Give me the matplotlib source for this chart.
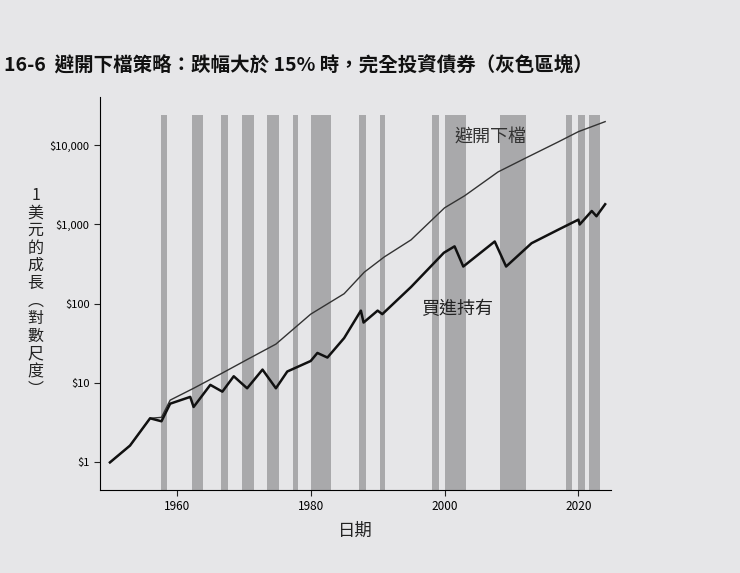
import matplotlib
matplotlib.use('Agg')
from matplotlib import pyplot as plt
from matplotlib.ticker import FixedLocator, NullLocator
import numpy as np

plt.rcParams['font.family'] = ['Noto Sans CJK TC', 'DejaVu Sans']

# gray blocks: periods fully in bonds
band_start = [1957.6, 1962.2, 1966.6, 1969.7, 1973.5, 1977.3, 1980.1, 1987.2, 1990.3,
              1998.2, 2000.0, 2008.3, 2018.1, 2019.9, 2021.6]
band_end = [1958.6, 1963.9, 1967.7, 1971.5, 1975.3, 1978.1, 1983.1, 1988.3, 1991.1,
            1999.1, 2003.2, 2012.2, 2019.1, 2021.0, 2023.2]

bh_year = [1950, 1953, 1956, 1957.7, 1959, 1962, 1962.5, 1965, 1966.8, 1968.5, 1970.5,
           1972.8, 1974.8, 1976.5, 1980, 1981, 1982.5, 1985, 1987.5, 1987.9, 1990, 1990.7,
           1995, 1999.9, 2001.5, 2002.8, 2007.5, 2009.2, 2013, 2017, 2020, 2020.2, 2022,
           2022.7, 2024]
bh_val = [1.0, 1.63, 3.6, 3.3, 5.5, 6.7, 5.0, 9.5, 7.8, 12.2, 8.6, 14.8, 8.6, 14, 19, 24,
          21, 37, 82, 58, 82, 74, 163, 440, 530, 295, 610, 295, 580, 860, 1150, 1000, 1480,
          1270, 1800]

ad_year = [1950, 1953, 1956, 1957.7, 1959, 1962.5, 1966.8, 1970.5, 1974.8, 1980, 1985,
           1988, 1991, 1995, 2000, 2003, 2008, 2012, 2017, 2020, 2024]
ad_val = [1.0, 1.63, 3.6, 3.7, 6.1, 8.6, 13.4, 19.8, 31, 74, 134, 250, 390, 640, 1620,
          2300, 4600, 6800, 11000, 14800, 19800]

y_ticks = [1, 10, 100, 1000, 10000]
y_labels = ['$1', '$10', '$100', '$1,000', '$10,000']
x_ticks = [1960, 1980, 2000, 2020]

bg = '#e6e6e8'
fig = plt.figure(figsize=(7.4, 5.73), dpi=100, facecolor=bg)
ax = fig.add_axes([0.135, 0.145, 0.69, 0.685], facecolor=bg)

for s, e in zip(band_start, band_end):
    ax.axvspan(s, e, ymin=0, ymax=0.955, color='#a9a9ab', lw=0)

ax.plot(ad_year, ad_val, color='#333333', lw=1.0)
ax.plot(bh_year, bh_val, color='#111111', lw=1.8)

ax.set_yscale('log')
ax.set_xlim(1948.5, 2024.8)
ax.set_ylim(0.45, 40000)
ax.yaxis.set_major_locator(FixedLocator(y_ticks))
ax.yaxis.set_minor_locator(NullLocator())
ax.set_yticklabels(y_labels, fontsize=8)
ax.set_xticks(x_ticks)
ax.set_xticklabels([str(t) for t in x_ticks], fontsize=8.5)
ax.spines['top'].set_visible(False)
ax.spines['right'].set_visible(False)
ax.tick_params(length=4, color='#222222')

ax.text(2001.5, 11000, '避開下檔', fontsize=13, color='#333333')
ax.text(1996.5, 75, '買進持有', fontsize=13, color='#222222')

fig.text(0.005, 0.875, '16-6  避開下檔策略：跌幅大於 15% 時，完全投資債券（灰色區塊）',
         fontsize=14, fontweight='bold', color='#111111')
fig.text(0.048, 0.49, '\n'.join('1美元的成長︵對數尺度︶'), fontsize=11.5,
         ha='center', va='center', linespacing=1.05, color='#222222')
fig.text(0.48, 0.065, '日期', fontsize=12.5, ha='center', color='#222222')

fig.savefig('out.png', dpi=100, facecolor=bg)
